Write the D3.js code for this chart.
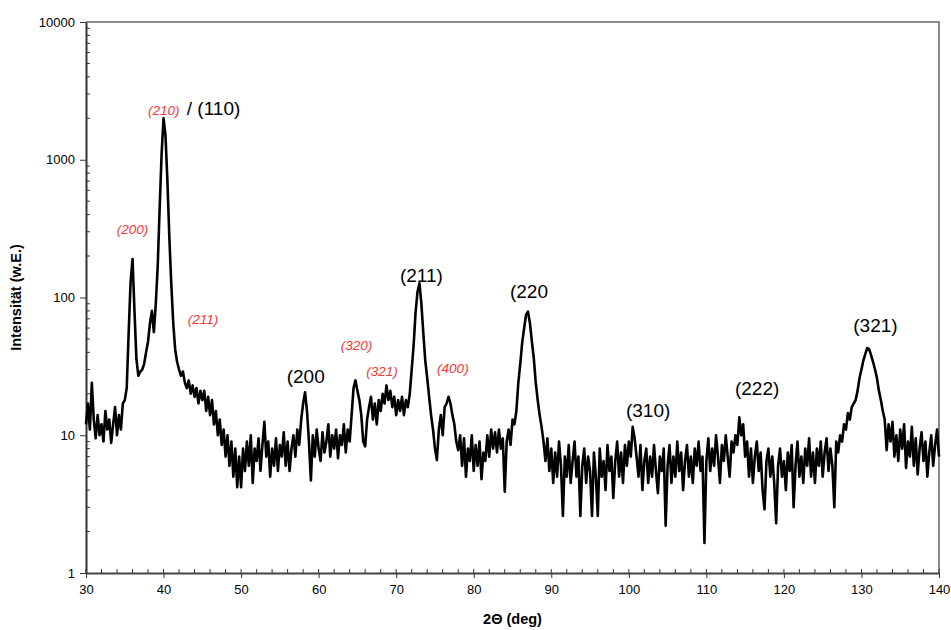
<!DOCTYPE html>
<html>
<head>
<meta charset="utf-8">
<script src="https://cdn.jsdelivr.net/npm/d3@7"></script>
<style>
  html, body { margin: 0; padding: 0; background: #fff; }
  svg { display: block; font-family: "Liberation Sans", Arial, sans-serif; }
</style>
</head>
<body>
<svg id="chart" width="951" height="630"></svg>
<script>
// XRD scan: 2-theta from 30 to 140 deg, step 0.25 deg
const scanStart = 30;
const scanStep = 0.25;

// Intensity (arbitrary units), one row per 5 deg
const intensity = [
  12, 17, 11, 24, 13, 9.5, 14, 10, 12, 9, 15, 11, 13, 8.8, 12, 16, 10, 14, 11, 17,
  18, 22, 55, 130, 190, 80, 36, 27, 29, 30, 33, 40, 48, 65, 80, 56, 90, 170, 450, 1100,
  2000, 1500, 700, 270, 125, 65, 42, 34, 30, 27, 29, 24, 22, 25, 20, 23, 19, 22, 17, 21,
  18, 21, 15, 19, 14, 18, 12, 15, 10, 13, 8.5, 11, 7, 10, 6, 9, 5, 8, 4.2, 7,
  4.2, 8, 5.5, 9, 6, 10, 4.5, 8, 6.5, 9.5, 5.5, 8.5, 12.5, 7, 9, 5, 8, 6, 9.5, 5.5,
  8.5, 7, 10.5, 6, 9, 5.5, 8, 10, 7, 11, 8.5, 13, 17, 20.5, 15, 9, 4.7, 10, 7, 11,
  8, 6.5, 10.5, 7.5, 9, 12, 7, 10, 8, 11, 6.8, 10, 8.5, 12, 7.5, 11, 9, 14, 22, 25,
  21, 18, 14, 9, 8.3, 13, 16, 19, 13, 17, 12, 18, 15, 20, 17, 23, 18, 21, 16, 19,
  14, 18, 15, 19, 14, 18, 16, 20, 30, 45, 78, 110, 127, 90, 55, 35, 26, 19, 14, 11,
  8, 6.6, 11, 14, 10, 16, 17, 19, 17, 14, 12, 9, 7.8, 10, 6, 9.5, 5, 8, 6.5, 10,
  5.5, 8.5, 6, 9, 4.8, 7.5, 6.5, 10, 7, 11, 8, 10.5, 7.5, 11, 8, 9.5, 3.9, 9, 11, 8.5,
  13, 12, 15, 24, 33, 47, 60, 75, 79, 65, 48, 36, 24, 18, 14, 11.5, 9, 6.5, 9.5, 5.5,
  8, 4.5, 7.5, 5, 9, 6, 2.6, 7, 5, 8.5, 4.5, 6.5, 9, 5, 7, 2.6, 6, 8, 4.5, 7,
  5.5, 2.6, 7.5, 5, 2.6, 8, 5, 6.5, 4, 8.5, 5.5, 7, 3.5, 6.5, 9, 5, 7.5, 4.5, 8.5, 6,
  9, 7, 11.5, 9.5, 7, 5, 8.5, 4, 6.5, 8, 4.5, 7, 5, 8.5, 5.5, 3.8, 7, 5.5, 8, 2.2,
  6, 8.5, 4.5, 7, 5, 9, 5.5, 7.5, 4, 6.5, 8.5, 5, 7, 4.5, 8, 6, 9, 5.5, 7, 1.65,
  6.5, 9.5, 5.5, 8, 6, 10, 7, 4.5, 8.5, 6.5, 10, 7, 5, 9, 7.5, 10, 8.5, 13.5, 10, 12,
  7, 9, 5, 8, 4.5, 7, 9, 5.5, 7.5, 4, 2.9, 6.5, 8, 5, 7, 4.5, 2.3, 6, 8, 5,
  6.5, 4, 7.5, 5.5, 8.5, 3, 6, 9, 5, 7, 4.5, 8, 6, 9.5, 5, 7.5, 4.5, 8, 6, 9,
  5, 7.5, 9.5, 5.5, 8, 6, 3, 9, 7.5, 10, 9, 12, 11, 14.5, 13, 16, 17, 18, 21, 26,
  30, 35, 39, 43, 42, 38, 34, 30, 26, 21, 18, 15, 13, 7.8, 12, 9, 12.5, 7, 10, 6.5,
  11, 8, 12, 5.8, 9, 7, 11.5, 6, 9.5, 5.2, 8, 10.5, 6.5, 9, 5, 7.5, 10, 6, 8.5, 11,
  7
];

const xTicks = [30, 40, 50, 60, 70, 80, 90, 100, 110, 120, 130, 140];
const yTicks = [1, 10, 100, 1000, 10000];

// Reflection labels, placed in data coordinates: [text, 2-theta, intensity]
// red italic labels are centred on that point
const redLabels = [
  ["(210)", 40.04, 2230],
  ["(200)", 36.0, 309],
  ["(211)", 45.1, 68.7],
  ["(320)", 64.87, 44.5],
  ["(321)", 68.16, 28.5],
  ["(400)", 77.31, 29.8]
];
// black labels start at that point
const blackLabels = [
  ["/ (110)", 43.0, 2300],
  ["(200", 55.88, 26.0],
  ["(211)", 70.49, 141.6],
  ["(220", 84.67, 108],
  ["(310)", 99.63, 14.8],
  ["(222)", 113.69, 21.3],
  ["(321)", 128.94, 61.4]
];

const data = intensity.map((v, i) => ({ x: scanStart + i * scanStep, y: v }));

const margin = { left: 86, right: 12, top: 22, bottom: 57 };
const W = 951, H = 630;
const x = d3.scaleLinear().domain([30, 140]).range([margin.left, W - margin.right]);
const y = d3.scaleLog().domain([1, 10000]).range([H - margin.bottom, margin.top]);

const svg = d3.select("#chart");

// plot frame: grey top and right edges
svg.append("path")
  .attr("d", `M${x(30)},${y(10000)}H${x(140)}V${y(1)}`)
  .attr("fill", "none").attr("stroke", "#8a8a8a").attr("stroke-width", 2);

// x axis: major ticks every 10 deg, minor every 2 deg
const xMinor = d3.range(30, 140.001, 2);
svg.append("g").selectAll("line").data(xMinor).join("line")
  .attr("x1", d => x(d)).attr("x2", d => x(d))
  .attr("y1", y(1) - 4).attr("y2", y(1))
  .attr("stroke", "#333").attr("stroke-width", 1);
const xAxis = svg.append("g").attr("transform", `translate(0,${y(1)})`)
  .call(d3.axisBottom(x).tickValues(xTicks).tickSize(5).tickPadding(7).tickSizeOuter(0));
xAxis.select(".domain").attr("stroke", "#444").attr("stroke-width", 2);
xAxis.selectAll(".tick line").attr("stroke", "#333");
xAxis.selectAll("text").attr("font-size", 13).attr("fill", "#000")
  .attr("font-family", "Liberation Sans, Arial, sans-serif");

// y axis: log decades with minor ticks
const yMinor = [];
for (let d = 1; d < 10000; d *= 10) for (let k = 2; k <= 9; k++) yMinor.push(d * k);
svg.append("g").selectAll("line").data(yMinor).join("line")
  .attr("x1", x(30)).attr("x2", x(30) + 4)
  .attr("y1", d => y(d)).attr("y2", d => y(d))
  .attr("stroke", "#333").attr("stroke-width", 1);
const yAxis = svg.append("g").attr("transform", `translate(${x(30)},0)`)
  .call(d3.axisLeft(y).tickValues(yTicks).tickFormat(d3.format("d")).tickSize(6).tickPadding(5).tickSizeOuter(0));
yAxis.select(".domain").attr("stroke", "#333").attr("stroke-width", 2);
yAxis.selectAll(".tick line").attr("stroke", "#333");
yAxis.selectAll("text").attr("font-size", 13).attr("fill", "#000")
  .attr("font-family", "Liberation Sans, Arial, sans-serif");

// diffraction pattern
svg.append("path").datum(data)
  .attr("fill", "none").attr("stroke", "#000").attr("stroke-width", 2.6)
  .attr("stroke-linejoin", "round")
  .attr("d", d3.line().x(d => x(d.x)).y(d => y(d.y)));

// reflection labels
svg.append("g").selectAll("text").data(redLabels).join("text")
  .attr("x", d => x(d[1])).attr("y", d => y(d[2]))
  .attr("text-anchor", "middle").attr("dominant-baseline", "middle")
  .attr("font-size", 13.5).attr("font-style", "italic").attr("fill", "#f03a3a")
  .text(d => d[0]);
svg.append("g").selectAll("text").data(blackLabels).join("text")
  .attr("x", d => x(d[1])).attr("y", d => y(d[2]))
  .attr("text-anchor", "start").attr("dominant-baseline", "middle")
  .attr("font-size", 19).attr("fill", "#000")
  .text(d => d[0]);

// axis titles
svg.append("text")
  .attr("x", (x(30) + x(140)) / 2).attr("y", 620)
  .attr("text-anchor", "middle").attr("dominant-baseline", "middle")
  .attr("font-size", 14.5).attr("font-weight", "bold")
  .text("2Θ (deg)");
svg.append("text")
  .attr("transform", `translate(17,${(y(1) + y(10000)) / 2}) rotate(-90)`)
  .attr("text-anchor", "middle").attr("dominant-baseline", "middle")
  .attr("font-size", 14.5).attr("font-weight", "bold")
  .text("Intensität (w.E.)");
</script>
</body>
</html>
